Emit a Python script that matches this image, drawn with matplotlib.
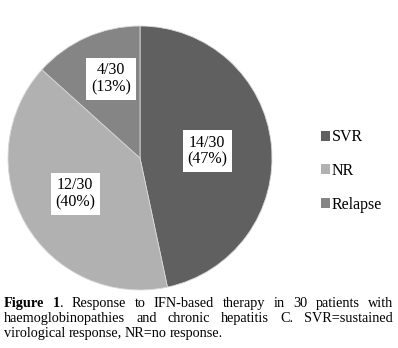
import matplotlib
matplotlib.use("Agg")
import matplotlib.pyplot as plt
from matplotlib.patches import Patch

# response categories, counts out of 30 patients
labels = ["SVR", "NR", "Relapse"]
counts = [14, 12, 4]
total = 30
colors = ["#606060", "#b1b1b1", "#858585"]
label_pos = [(0.51, 0.05), (-0.49, -0.27), (-0.22, 0.60)]

caption_lines = [
    [[("Figure", "bold")], [("1", "bold"), (".", "normal")], [("Response", "normal")],
     [("to", "normal")], [("IFN-based", "normal")], [("therapy", "normal")],
     [("in", "normal")], [("30", "normal")], [("patients", "normal")], [("with", "normal")]],
    [[(w, "normal")] for w in "haemoglobinopathies and chronic hepatitis C. SVR=sustained".split()],
    [[(w, "normal")] for w in "virological response, NR=no response.".split()],
]

W, H = 398, 348
fig = plt.figure(figsize=(W / 100, H / 100), dpi=100)
serif = "Liberation Serif"

ax = fig.add_axes([8 / W, (H - 290) / H, 264 / W, 264 / H])
ax.pie(counts, colors=colors, startangle=90, counterclock=False,
       wedgeprops=dict(edgecolor="#d8d8d8", linewidth=0.6))
ax.set_xlim(-1.0, 1.0)
ax.set_ylim(-1.0, 1.0)
ax.set_aspect("equal")

for c, (x, y) in zip(counts, label_pos):
    ax.text(x, y, f"{c}/{total}\n({round(100 * c / total)}%)", ha="center", va="center",
            family=serif, fontsize=11.5, linespacing=1.05,
            bbox=dict(facecolor="white", edgecolor="none", pad=3.5))

handles = [Patch(facecolor=col, edgecolor="none") for col in colors]
fig.legend(handles, labels, loc="upper left", bbox_to_anchor=(315 / W, 1 - 123 / H),
           frameon=False, prop=dict(family=serif, size=11.5),
           handlelength=0.55, handleheight=0.55, handletextpad=0.1,
           labelspacing=1.1, borderaxespad=0)

# caption: justified lines on a common baseline, last line left aligned
fig.canvas.draw()
r = fig.canvas.get_renderer()
x_left, x_right = 4, 393
line_y = [307, 322, 337]
fs = 10.3
for li, (words, yy) in enumerate(zip(caption_lines, line_y)):
    pieces = []
    widths = []
    for word in words:
        runs = []
        wsum = 0
        for txt, wt in word:
            t = fig.text(0, 0, txt, family=serif, fontsize=fs, weight=wt, va="baseline")
            bw = t.get_window_extent(r).width
            runs.append((t, bw))
            wsum += bw
        pieces.append(runs)
        widths.append(wsum)
    if li < len(caption_lines) - 1:
        gap = (x_right - x_left - sum(widths)) / (len(words) - 1)
    else:
        gap = 3.0
    x = x_left
    for runs, wsum in zip(pieces, widths):
        for t, bw in runs:
            t.set_position((x / W, 1 - yy / H))
            x += bw
        x += gap

fig.savefig("out.png", dpi=100, facecolor="white")
